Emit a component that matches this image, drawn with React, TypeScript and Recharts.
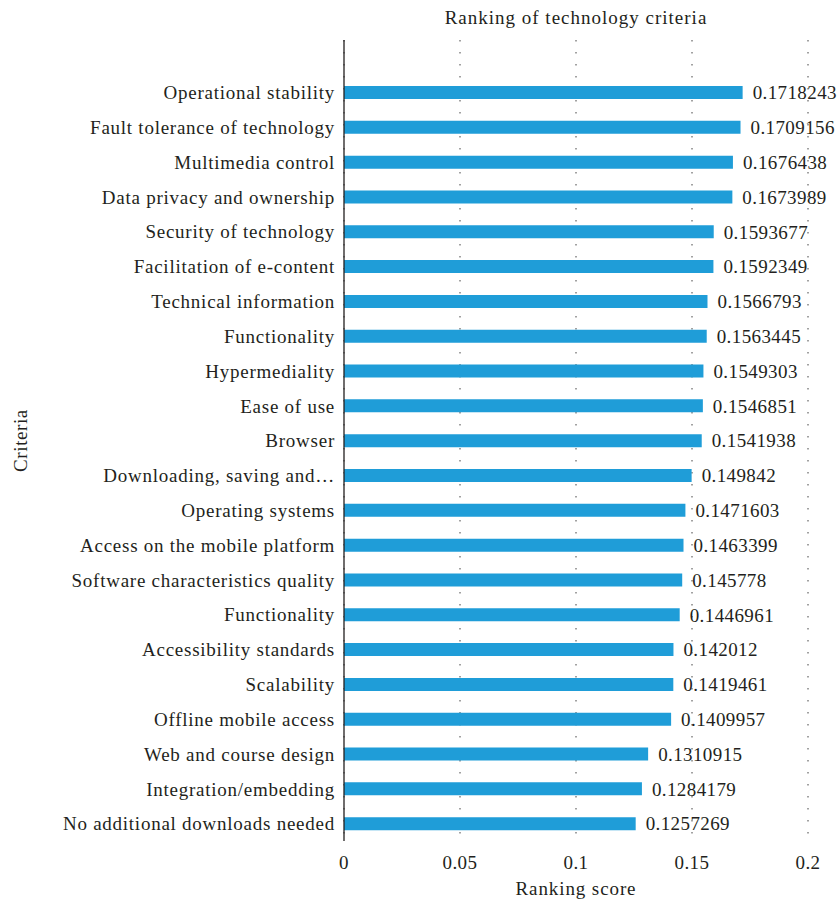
import React from "react";
import { BarChart, Bar, XAxis, YAxis, CartesianGrid, LabelList } from "recharts";

const criteria = [
  "Operational stability",
  "Fault tolerance of technology",
  "Multimedia control",
  "Data privacy and ownership",
  "Security of technology",
  "Facilitation of e-content",
  "Technical information",
  "Functionality",
  "Hypermediality",
  "Ease of use",
  "Browser",
  "Downloading, saving and…",
  "Operating systems",
  "Access on the mobile platform",
  "Software characteristics quality",
  "Functionality ",
  "Accessibility standards",
  "Scalability",
  "Offline mobile access",
  "Web and course design",
  "Integration/embedding",
  "No additional downloads needed",
];

const scores = [
  0.1718243, 0.1709156, 0.1676438, 0.1673989, 0.1593677, 0.1592349, 0.1566793,
  0.1563445, 0.1549303, 0.1546851, 0.1541938, 0.149842, 0.1471603, 0.1463399,
  0.145778, 0.1446961, 0.142012, 0.1419461, 0.1409957, 0.1310915, 0.1284179,
  0.1257269,
];

const xTicks = [0, 0.05, 0.1, 0.15, 0.2];

const FONT = "'Liberation Serif', 'Times New Roman', serif";
const TEXT = "#231f20";

export default function App() {
  const data = criteria.map((c, i) => ({ name: c, score: scores[i] }));

  return (
    <div style={{ position: "absolute", left: 0, top: 0, width: 840, height: 903, fontFamily: FONT, background: "#fff" }}>
      <div
        style={{
          position: "absolute", left: 344, width: 464, top: 7, textAlign: "center",
          fontSize: 19, letterSpacing: 1, color: TEXT, fontFamily: FONT,
        }}
      >
        Ranking of technology criteria
      </div>
      <BarChart
        width={840}
        height={903}
        data={data}
        layout="vertical"
        margin={{ top: 40, right: 32, left: 0, bottom: 8 }}
      >
        <CartesianGrid horizontal={false} stroke="#444" strokeDasharray="1.5 10.5" />
        <XAxis
          type="number"
          domain={[0, 0.2]}
          ticks={xTicks}
          axisLine={false}
          tickLine={false}
          height={54}
          tick={{ fontSize: 19, fill: TEXT, fontFamily: FONT, letterSpacing: 0.4 }}
          tickMargin={9}
          label={{ value: "Ranking score", position: "insideBottom", offset: 0, fontSize: 19, fill: TEXT, fontFamily: FONT, letterSpacing: 0.9 }}
        />
        <YAxis
          type="category"
          dataKey="name"
          width={344}
          padding={{ top: 35, bottom: 0 }}
          axisLine={{ stroke: "#231f20", strokeWidth: 1.3 }}
          tickLine={false}
          interval={0}
          tick={{ fontSize: 19, fill: TEXT, fontFamily: FONT, letterSpacing: 0.75 }}
          tickMargin={3}
          label={{ value: "Criteria", angle: -90, position: "insideLeft", offset: 20, fontSize: 19, fill: TEXT, fontFamily: FONT, letterSpacing: 0.6, style: { textAnchor: "middle" } }}
        />
        <Bar dataKey="score" fill="#1f9dd8" barSize={13} isAnimationActive={false}>
          <LabelList dataKey="score" position="right" offset={10} style={{ fontSize: 19, fill: TEXT, fontFamily: FONT, letterSpacing: 0.4 }} />
        </Bar>
      </BarChart>
    </div>
  );
}
